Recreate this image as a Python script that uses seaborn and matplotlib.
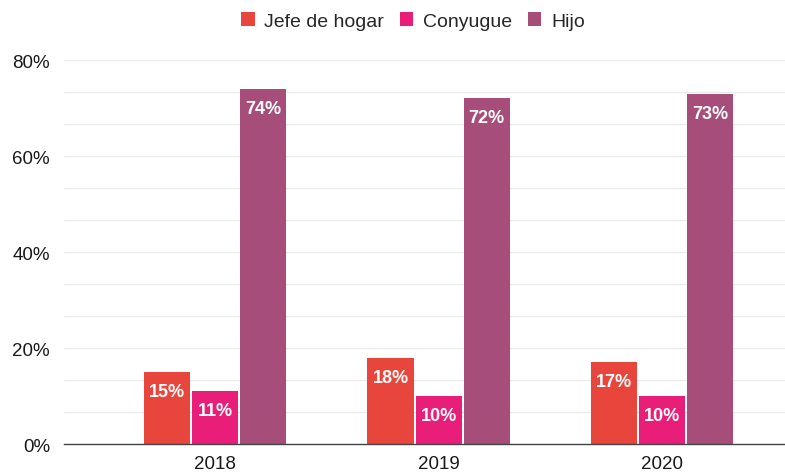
import numpy as np
import pandas as pd
import matplotlib
matplotlib.use('Agg')
import matplotlib.pyplot as plt
import matplotlib.ticker as mtick
import seaborn as sns

years = ['2018', '2019', '2020']
series = ['Jefe de hogar', 'Conyugue', 'Hijo']
jefe = [15, 18, 17]
conyugue = [11, 10, 10]
hijo = [74, 72, 73]
colors = ['#E8453C', '#E91E78', '#A64D79']

df = pd.DataFrame({
    'year': years * 3,
    'serie': [s for s in series for _ in years],
    'value': jefe + conyugue + hijo,
})

sns.set_style('white')
plt.rcParams['font.family'] = ['Liberation Sans', 'DejaVu Sans']

fig, ax = plt.subplots(figsize=(7.85, 4.77), dpi=100)
fig.subplots_adjust(left=0.0815, right=1.0, top=0.872, bottom=0.067)

sns.barplot(data=df, x='year', y='value', hue='serie', palette=colors,
            width=0.645, gap=0.04, ax=ax, saturation=1, legend=True, linewidth=0)

for container in ax.containers:
    for bar in container:
        h = bar.get_height()
        ax.text(bar.get_x() + bar.get_width() / 2, h - 2.3, f'{h:.0f}%',
                ha='center', va='top', color='white', fontsize=13, fontweight='bold')

ax.set_ylim(0, 80)
ax.set_xlim(-0.676, 2.55)
ax.yaxis.set_major_locator(mtick.MultipleLocator(20))
ax.yaxis.set_minor_locator(mtick.MultipleLocator(20 / 3))
ax.yaxis.set_major_formatter(mtick.FuncFormatter(lambda x, _: f'{x:.0f}%'))
ax.grid(True, axis='y', which='both', color='#ebebeb', linewidth=1)
ax.set_axisbelow(True)
ax.set_xlabel('')
ax.set_ylabel('')
for s in ['top', 'right', 'left']:
    ax.spines[s].set_visible(False)
ax.spines['bottom'].set_color('#444444')
ax.spines['bottom'].set_linewidth(1)
ax.tick_params(axis='both', length=0, labelsize=13.5, colors='#1a1a1a', pad=8)
ax.tick_params(axis='y', pad=10)

handles, labels = ax.get_legend_handles_labels()
ax.legend(handles, labels, loc='upper center', bbox_to_anchor=(0.484, 1.17), ncol=3,
          frameon=False, fontsize=14, handlelength=0.7, handleheight=0.7,
          handletextpad=0.5, columnspacing=0.8)

plt.savefig('out.png', dpi=100)
